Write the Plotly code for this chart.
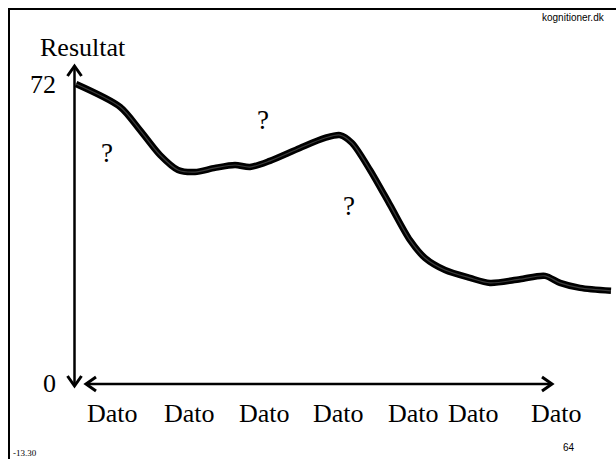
import plotly.graph_objects as go

# Data (x in time units along the date axis, y = Resultat)
x_vals = [76, 120, 140, 160, 178, 195, 215, 235, 250, 270, 300, 325, 340, 352, 370,
          390, 410, 425, 445, 470, 490, 520, 545, 560, 580, 611]
y_vals = [72.0, 66.5, 60.9, 54.9, 51.3, 50.8, 51.8, 52.5, 52.0, 53.5, 56.6, 59.0, 59.7,
          57.8, 51.3, 42.9, 34.4, 30.1, 27.2, 25.3, 24.1, 25.0, 25.8, 24.1, 22.9, 22.2]
date_labels = ["Dato"] * 7
date_pos = [112, 189, 264, 338, 413, 474, 556]
y_ticks = [0, 72]

W, H = 616, 459

def px(x):
    return x / W

def py(y):
    return 1 - y / H

fig = go.Figure()
fig.add_trace(go.Scatter(x=x_vals, y=y_vals, mode="lines",
                         line=dict(color="black", width=6.5, shape="spline", smoothing=0.8),
                         hoverinfo="skip", showlegend=False))
fig.add_trace(go.Scatter(x=x_vals, y=y_vals, mode="lines",
                         line=dict(color="#3c3c3c", width=1.2, shape="spline", smoothing=0.8),
                         hoverinfo="skip", showlegend=False))

shapes = []
# slide border
shapes.append(dict(type="rect", xref="paper", yref="paper",
                   x0=px(9), y0=py(9), x1=px(640), y1=py(490),
                   line=dict(color="black", width=2)))
# y axis line
shapes.append(dict(type="line", xref="paper", yref="paper",
                   x0=px(74.5), y0=py(67), x1=px(74.5), y1=py(385),
                   line=dict(color="black", width=2.5)))
# x axis line
shapes.append(dict(type="line", xref="paper", yref="paper",
                   x0=px(87), y0=py(384), x1=px(551), y1=py(384),
                   line=dict(color="black", width=2.5)))

def chevron(tx, ty, dx1, dy1, dx2, dy2):
    return dict(type="path", xref="paper", yref="paper",
                path=f"M {px(tx+dx1)} {py(ty+dy1)} L {px(tx)} {py(ty)} L {px(tx+dx2)} {py(ty+dy2)}",
                line=dict(color="black", width=3))

# arrowheads (open chevrons)
shapes.append(chevron(74.5, 66, -7, 10, 7, 10))      # up
shapes.append(chevron(74.5, 386, -7, -10, 7, -10))   # down
shapes.append(chevron(86, 384, 10, -7, 10, 7))       # left
shapes.append(chevron(552, 384, -10, -7, -10, 7))    # right

annotations = []
serif = "Liberation Serif"

def txt(text, x, y, size, family=serif, xanchor="center"):
    annotations.append(dict(text=text, xref="paper", yref="paper", x=px(x), y=py(y),
                            xanchor=xanchor, yanchor="middle", showarrow=False,
                            font=dict(family=family, size=size, color="black")))

txt("Resultat", 83, 47, 26)
for v, ypix in zip(y_ticks, [383, 85]):
    txt(str(v), 58, ypix, 26, xanchor="right")
for lab, xp in zip(date_labels, date_pos):
    txt(lab, xp, 413, 26)
for (qx, qy) in [(107, 153), (263, 120), (349, 206)]:
    txt("?", qx, qy, 27)
txt("kognitioner.dk", 607, 18, 10, family="Liberation Sans", xanchor="right")
txt("64", 569, 447, 10, family="Liberation Sans")
txt("-13.30", 11, 453, 9, xanchor="left")

fig.update_layout(
    width=W, height=H,
    margin=dict(l=0, r=0, t=0, b=0),
    paper_bgcolor="white", plot_bgcolor="white",
    xaxis=dict(range=[0, W], visible=False, fixedrange=True),
    yaxis=dict(range=[72 * (383 - H) / 299, 72 * 383 / 299], visible=False, fixedrange=True),
    shapes=shapes, annotations=annotations,
)

fig.write_html("out.html", config={"displayModeBar": False},
               post_script="document.body.style.margin='0';document.body.style.overflow='hidden';")
